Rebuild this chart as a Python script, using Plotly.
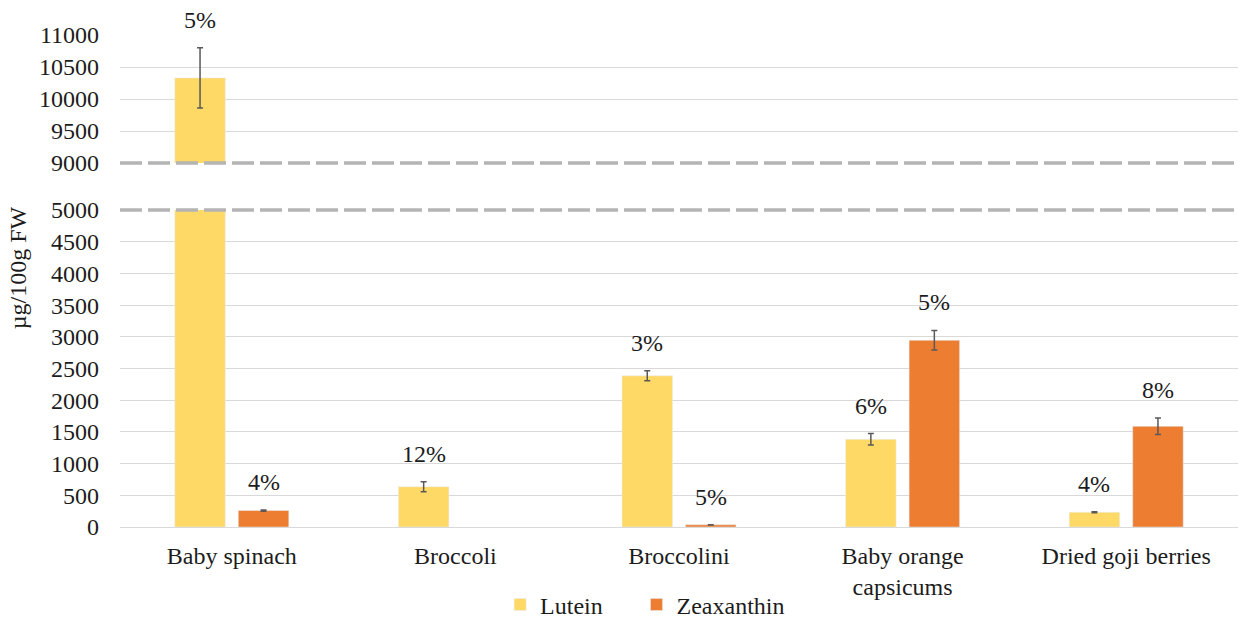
import plotly.graph_objects as go

# Carotenoid content by food (µg/100g FW), mean ± SD, with CV labels
foods = ["Baby spinach", "Broccoli", "Broccolini", "Baby orange<br>capsicums", "Dried goji berries"]
lutein = [10330, 635, 2385, 1383, 232]
lutein_sd = [470, 80, 80, 90, 9]
lutein_cv = ["5%", "12%", "3%", "6%", "4%"]
zeaxanthin = [260, None, 35, 2945, 1588]
zeaxanthin_sd = [10, None, 2, 155, 130]
zeaxanthin_cv = ["4%", None, "5%", "5%", "8%"]

lower_ticks = [0, 500, 1000, 1500, 2000, 2500, 3000, 3500, 4000, 4500, 5000]
upper_ticks = [9000, 9500, 10000, 10500, 11000]
lower_range = [0, 5000]
upper_range = [9000, 11000]
lower_domain = [0, 0.6443]
upper_domain = [0.7398, 1]

FONT = "Liberation Serif, Times New Roman, DejaVu Serif, serif"
FS = 24
TXT = "#1c1c1c"
YEL = "#FFD966"
ORG = "#ED7D31"
ERR = "#595959"
GRID = "#D9D9D9"

BARGAP = 0.432
GROUPGAP = 0.205

fig = go.Figure()


def err(vals):
    return dict(type="data", array=[v if v is not None else 0 for v in vals],
                color=ERR, thickness=1.5, width=3, visible=True)


for xa, ya, show in (("x", "y", True), ("x2", "y2", False)):
    fig.add_trace(go.Bar(x=foods, y=lutein, name="Lutein", marker_color=YEL,
                         error_y=err(lutein_sd), xaxis=xa, yaxis=ya,
                         showlegend=show, legend="legend", cliponaxis=True))
    fig.add_trace(go.Bar(x=foods, y=zeaxanthin, name="Zeaxanthin", marker_color=ORG,
                         error_y=err(zeaxanthin_sd), xaxis=xa, yaxis=ya,
                         showlegend=show, legend="legend2", cliponaxis=True))

# horizontal offset (px) of each bar from its category centre
plot_w = 1239 - 120 - 1
slot_px = plot_w / len(foods) * (1 - BARGAP) / 2

# CV labels above each error bar, on whichever axis segment shows the bar top
annotations = []
for i, f in enumerate(foods):
    for vals, sds, cvs, off in ((lutein, lutein_sd, lutein_cv, -0.5),
                                (zeaxanthin, zeaxanthin_sd, zeaxanthin_cv, 0.5)):
        if vals[i] is None:
            continue
        top = vals[i] + sds[i]
        yref = "y2" if top > lower_range[1] else "y"
        annotations.append(dict(
            x=f, y=top, xref="x", yref=yref, text=cvs[i], showarrow=False,
            xshift=off * slot_px, yshift=28, yanchor="middle",
            font=dict(family=FONT, size=FS, color=TXT)))

annotations.append(dict(
    text="µg/100g FW", textangle=-90, xref="paper", yref="paper",
    x=-0.0912, y=0.526, xanchor="center", yanchor="middle", showarrow=False,
    font=dict(family=FONT, size=FS, color=TXT)))

# Dashed break lines at the edges of the two axis segments
shapes = []
for yv in (upper_domain[0], lower_domain[1]):
    shapes.append(dict(type="line", xref="paper", x0=0, x1=1, yref="paper", y0=yv, y1=yv,
                       line=dict(color="#B4B4B4", width=3.5, dash="22px,6px"),
                       layer="above"))

axis_font = dict(family=FONT, size=FS, color=TXT)
legend_common = dict(orientation="h", xanchor="left", yref="container", y=0.029,
                     yanchor="middle", font=axis_font, bgcolor="rgba(0,0,0,0)")

fig.update_layout(
    width=1239, height=623,
    margin=dict(l=120, r=1, t=35, b=96, autoexpand=False),
    paper_bgcolor="white", plot_bgcolor="white",
    barmode="group", bargap=BARGAP, bargroupgap=GROUPGAP,
    font=dict(family=FONT, size=FS, color=TXT),
    xaxis=dict(domain=[0, 1], anchor="y", tickfont=axis_font, showgrid=False,
               showline=False, ticks="", ticklabelstandoff=12),
    xaxis2=dict(domain=[0, 1], anchor="y2", matches="x", showticklabels=False,
                showgrid=False, showline=False, ticks=""),
    yaxis=dict(domain=lower_domain, range=lower_range, tickvals=lower_ticks,
               ticktext=[str(v) for v in lower_ticks],
               tickfont=axis_font, showgrid=True, gridcolor=GRID, gridwidth=1.3,
               zeroline=True, zerolinecolor=GRID, zerolinewidth=1.3,
               showline=False, ticks="", ticklabelstandoff=20),
    yaxis2=dict(domain=upper_domain, range=upper_range, tickvals=upper_ticks,
                ticktext=[str(v) for v in upper_ticks],
                tickfont=axis_font, showgrid=True, gridcolor=GRID, gridwidth=1.3,
                zeroline=False, showline=False, ticks="", ticklabelstandoff=20),
    legend=dict(x=0.3400, **legend_common),
    legend2=dict(x=0.4620, **legend_common),
    annotations=annotations,
    shapes=shapes,
    showlegend=True,
)

fig.write_html("out.html")
